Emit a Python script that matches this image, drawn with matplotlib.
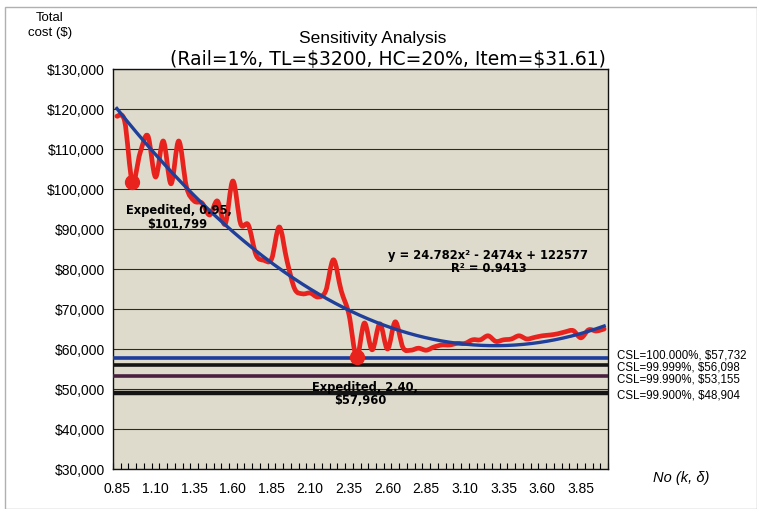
import numpy as np
import matplotlib
matplotlib.use("Agg")
import matplotlib.pyplot as plt
from matplotlib.path import Path
from matplotlib.patches import PathPatch, Rectangle
from matplotlib.ticker import FuncFormatter

# No(k, delta) categories, 0.85 .. 4.00 in steps of 0.05
k_values = np.round(np.arange(0.85, 4.001, 0.05), 2)

# total cost, one value per category
total_cost = [
    118200, 117000, 101800, 109000, 113300, 103000, 112000, 101300, 112000, 100500,
    97000, 96500, 93500, 97000, 91200, 102000, 91300, 91000, 83500, 82200,
    82500, 90500, 82000, 75000, 73800, 74000, 73000, 74500, 82300, 74600,
    68700, 57960, 66500, 59800, 66300, 60000, 66800, 60300, 59700, 60200,
    59700, 60500, 61000, 61000, 61400, 61400, 62300, 62300, 63300, 61900,
    62300, 62500, 63300, 62500, 62900, 63300, 63500, 63800, 64300, 64600,
    62800, 64800, 64500, 65000,
]

# polynomial trendline printed on the chart (x = category number 1..64)
trend_coef = [24.782, -2474, 122577]

# service level reference lines
csl_labels = ["CSL=100.000%, $57,732", "CSL=99.999%, $56,098",
              "CSL=99.990%, $53,155", "CSL=99.900%, $48,904"]
csl_values = [57732, 56098, 53155, 48904]
csl_colors = ["#1d3c9c", "#141414", "#4a2040", "#141414"]
csl_widths = [2.6, 2.6, 2.6, 3.2]

# expedited points
exp_k = [0.95, 2.40]
exp_cost = [101799, 57960]

y_ticks = list(range(30000, 130001, 10000))
x_tick_labels = ["0.85", "1.10", "1.35", "1.60", "1.85", "2.10", "2.35",
                 "2.60", "2.85", "3.10", "3.35", "3.60", "3.85"]

plt.rcParams['font.family'] = ['Liberation Sans', 'DejaVu Sans']
plt.rcParams['text.parse_math'] = False

W, H = 757, 510
fig = plt.figure(figsize=(W / 100, H / 100), dpi=100)
fig.patches.append(Rectangle((5 / W, 0), 1 - 5 / W, 1 - 8 / H, transform=fig.transFigure,
                             fill=False, ec="#b0b0b0", lw=1))

ax = fig.add_axes([113 / W, 1 - 470 / H, 495 / W, 400 / H])
ax.set_facecolor("#dfdbcc")

n = len(total_cost)
xi = np.arange(n)
pts = np.column_stack([xi, np.array(total_cost, float)])

# smoothed line like the spreadsheet: cubic bezier segments through the points
verts = [pts[0]]
codes = [Path.MOVETO]
for i in range(n - 1):
    p0 = pts[max(i - 1, 0)]
    p1 = pts[i]
    p2 = pts[i + 1]
    p3 = pts[min(i + 2, n - 1)]
    verts += [p1 + (p2 - p0) / 6, p2 - (p3 - p1) / 6, p2]
    codes += [Path.CURVE4] * 3
ax.add_patch(PathPatch(Path(verts, codes), fc="none", ec="#e8231e", lw=3.4,
                       capstyle="round", joinstyle="round", zorder=4))

# expedited markers
exp_idx = [int(round((k - k_values[0]) / 0.05)) for k in exp_k]
ax.plot(exp_idx, exp_cost, "o", color="#e8231e", ms=10, zorder=4)

# trendline
xt = np.linspace(1, n, 300)
ax.plot(xt - 1, np.polyval(trend_coef, xt), color="#1f3f9a", lw=2.4, zorder=5)

for v, c, w in zip(csl_values, csl_colors, csl_widths):
    ax.axhline(v, color=c, lw=w, zorder=3)

ax.set_xlim(-0.5, n - 0.5)
ax.set_ylim(30000, 130000)
ax.set_yticks(y_ticks)
ax.yaxis.set_major_formatter(FuncFormatter(lambda v, p: "${:,.0f}".format(v)))
ax.grid(axis="y", color="#2a2a2a", lw=0.8)
ax.set_axisbelow(True)

ax.set_xticks(xi[::5])
ax.set_xticklabels(x_tick_labels)
ax.set_xticks(np.arange(-0.5, n, 1), minor=True)
ax.tick_params(axis="x", which="major", length=0, pad=9, labelsize=10)
ax.tick_params(axis="x", which="minor", direction="in", length=4, width=0.8)
ax.tick_params(axis="y", length=0, pad=6, labelsize=10)
for s in ax.spines.values():
    s.set_color("#111111")
    s.set_linewidth(1)


def ft(x, y, s, **kw):
    fig.text(x / W, 1 - y / H, s, **kw)


ft(50, 18, "Total", ha="center", va="center", fontsize=9.5)
ft(50, 33, "cost ($)", ha="center", va="center", fontsize=9.5)
ft(373, 38, "Sensitivity Analysis", ha="center", va="center", fontsize=12.5)
ft(388, 60, "(Rail=1%, TL=$3200, HC=20%, Item=$31.61)", ha="center", va="center",
   fontsize=13.5, family="DejaVu Sans")

bold = dict(ha="center", va="center", fontsize=8.3, fontweight="bold", family="DejaVu Sans")
ft(179, 211, "Expedited, 0.95,", **bold)
ft(177, 224, "$101,799", **bold)
ft(365, 388, "Expedited, 2.40,", **bold)
ft(360, 401, "$57,960", **bold)
ft(488, 255, "y = 24.782x² - 2474x + 122577", **bold)
ft(489, 269, "R² = 0.9413", **bold)

csl_y = [356, 367, 380, 396]
for lab, yy in zip(csl_labels, csl_y):
    ft(617, yy, lab, ha="left", va="center", fontsize=8.3)

ft(681, 478, "No (k, δ)", ha="center", va="center", fontsize=10.5, style="italic")

fig.savefig("out.png", dpi=100)
